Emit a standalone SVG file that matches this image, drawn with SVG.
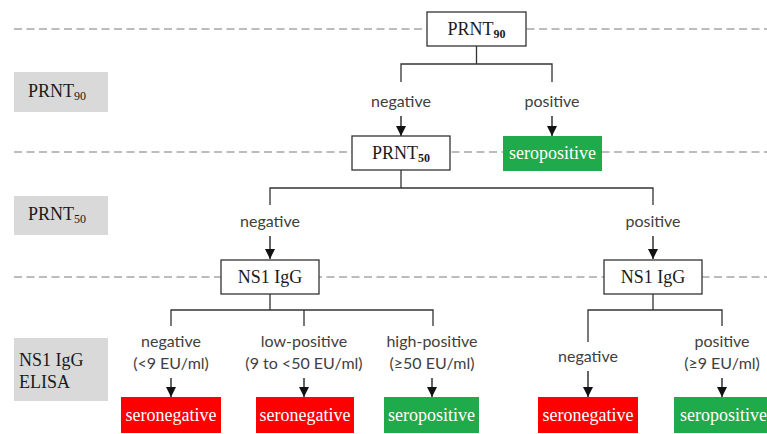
<svg xmlns="http://www.w3.org/2000/svg" width="767" height="434" viewBox="0 0 767 434">
<defs>
<marker id="arr" viewBox="0 0 10 10" refX="10" refY="5" markerWidth="10" markerHeight="10" markerUnits="userSpaceOnUse" orient="auto">
<path d="M0,0 L10,5 L0,10 z" fill="#111"/>
</marker>
<style>
.dash{stroke:#a6a6a6;stroke-width:1.5;stroke-dasharray:8,4.5;fill:none}
.side{fill:#d9d9d9}
.box{fill:#fff;stroke:#333;stroke-width:1.3}
.pos{fill:#1faa4b}
.neg{fill:#ff0000}
.bt{font-family:"Liberation Serif","Times New Roman",serif;font-size:18px;fill:#1a1a1a;text-anchor:middle}
.st{font-family:"Liberation Serif","Times New Roman",serif;font-size:18px;fill:#1a1a1a}
.wt{font-family:"Liberation Serif","Times New Roman",serif;font-size:18px;fill:#fff;text-anchor:middle}
.sub{font-size:12px}
.lb{font-family:Lato,"Open Sans",sans-serif;font-size:16px;fill:#404040;text-anchor:middle}
.ln{stroke:#333;stroke-width:1.3;fill:none}
.ar{stroke:#111;stroke-width:1.3;fill:none;marker-end:url(#arr)}
</style>
</defs>
<rect width="767" height="434" fill="#fff"/>
<g id="guides">
<line class="dash" x1="14" y1="29" x2="767" y2="29"/>
<line class="dash" x1="14" y1="152" x2="767" y2="152"/>
<line class="dash" x1="14" y1="277" x2="767" y2="277"/>
</g>
<g id="side-prnt90"><rect class="side" x="14" y="72" width="94" height="40"/><text class="st" x="28" y="97">PRNT<tspan class="sub" dy="3">90</tspan></text></g>
<g id="side-prnt50"><rect class="side" x="14" y="196" width="94" height="39"/><text class="st" x="28" y="220">PRNT<tspan class="sub" dy="3">50</tspan></text></g>
<g id="side-ns1"><rect class="side" x="14" y="338" width="94" height="63"/><text class="st" x="19" y="366">NS1 IgG</text><text class="st" x="19" y="388">ELISA</text></g>
<g id="connectors">
<path class="ln" d="M476.5,46 V64 M401,82 V64 H552 V82"/>
<line class="ar" x1="401" y1="116" x2="401" y2="136"/>
<line class="ar" x1="552" y1="116" x2="552" y2="136"/>
<path class="ln" d="M401,170 V188 M270,205 V188 H653 V205"/>
<line class="ar" x1="270" y1="236" x2="270" y2="259"/>
<line class="ar" x1="653" y1="236" x2="653" y2="259"/>
<path class="ln" d="M270,294 V310 M171,326 V310 H433 V326 M304,310 V326"/>
<line class="ar" x1="171" y1="378" x2="171" y2="397"/>
<line class="ar" x1="304" y1="378" x2="304" y2="397"/>
<line class="ar" x1="432" y1="378" x2="432" y2="397"/>
<path class="ln" d="M653,294 V310 M588,342 V310 H722 V326"/>
<line class="ar" x1="588" y1="371" x2="588" y2="397"/>
<line class="ar" x1="722" y1="378" x2="722" y2="397"/>
</g>
<g id="labels">
<text class="lb" x="401" y="107">negative</text>
<text class="lb" x="552" y="107">positive</text>
<text class="lb" x="270" y="227">negative</text>
<text class="lb" x="653" y="227">positive</text>
<text class="lb" x="171" y="347">negative</text>
<text class="lb" x="171" y="369">(&lt;9 EU/ml)</text>
<text class="lb" x="304" y="347">low-positive</text>
<text class="lb" x="304" y="369">(9 to &lt;50 EU/ml)</text>
<text class="lb" x="432" y="347">high-positive</text>
<text class="lb" x="432" y="369">(≥50 EU/ml)</text>
<text class="lb" x="588" y="362">negative</text>
<text class="lb" x="722" y="347">positive</text>
<text class="lb" x="722" y="369">(≥9 EU/ml)</text>
</g>
<g id="n-prnt90"><rect class="box" x="427" y="12" width="99" height="34"/><text class="bt" x="476.5" y="35">PRNT<tspan class="sub" font-weight="bold" dy="3">90</tspan></text></g>
<g id="n-prnt50"><rect class="box" x="352" y="136" width="98" height="34"/><text class="bt" x="401" y="159">PRNT<tspan class="sub" font-weight="bold" dy="3">50</tspan></text></g>
<g id="n-seropos1"><rect class="pos" x="503" y="136" width="99" height="35"/><text class="wt" x="552.5" y="159">seropositive</text></g>
<g id="n-ns1-left"><rect class="box" x="221" y="260" width="98" height="34"/><text class="bt" x="270" y="283">NS1 IgG</text></g>
<g id="n-ns1-right"><rect class="box" x="604" y="260" width="98" height="34"/><text class="bt" x="653" y="283">NS1 IgG</text></g>
<g id="n-seroneg1"><rect class="neg" x="121" y="397" width="100" height="36"/><text class="wt" x="171" y="421">seronegative</text></g>
<g id="n-seroneg2"><rect class="neg" x="256" y="397" width="98" height="36"/><text class="wt" x="305" y="421">seronegative</text></g>
<g id="n-seropos2"><rect class="pos" x="384" y="397" width="95" height="36"/><text class="wt" x="431.5" y="421">seropositive</text></g>
<g id="n-seroneg3"><rect class="neg" x="538" y="397" width="100" height="36"/><text class="wt" x="588" y="421">seronegative</text></g>
<g id="n-seropos3"><rect class="pos" x="674" y="397" width="99" height="36"/><text class="wt" x="723.5" y="421">seropositive</text></g>
</svg>
